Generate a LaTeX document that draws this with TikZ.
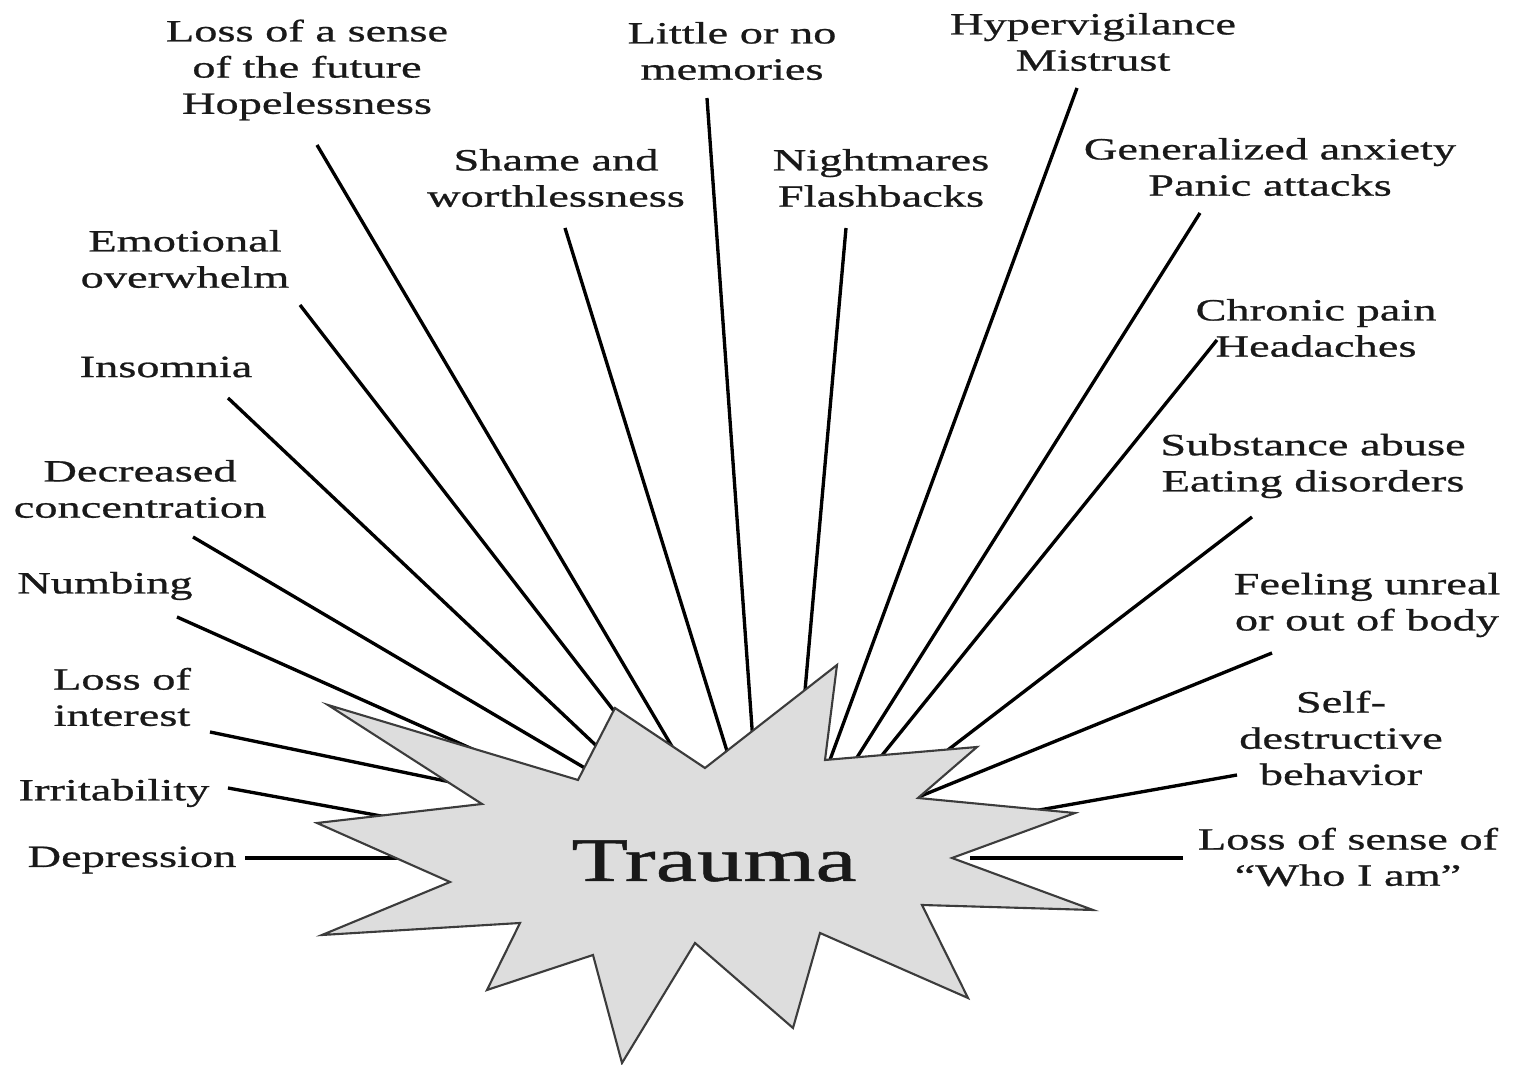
\documentclass[tikz,border=0pt]{standalone}
\usepackage{fontspec}
\setmainfont[FakeStretch=1.5,FakeBold=0.8]{Liberation Serif}
\definecolor{ink}{RGB}{25,25,25}
\definecolor{burst}{RGB}{221,221,221}
\definecolor{rim}{RGB}{60,60,60}
\tikzset{
  tag/.style={font=\fontsize{8.8}{10.3}\selectfont,text=ink,align=center,inner sep=0pt},
  spoke/.style={draw=black,line width=0.95pt},
  blast/.style={fill=burst,draw=rim,line width=0.6pt,line join=miter},
}
\begin{document}
\begin{tikzpicture}[x=0.1mm,y=-0.1mm]
  \useasboundingbox (0,0) rectangle (1513,1065);
  % labels, clockwise from the left
  \node[tag] (depression) at (132,860) {Depression};
  \node[tag] (irritability) at (114,793) {Irritability};
  \node[tag] (interest) at (122,697) {Loss of\\interest};
  \node[tag] (numbing) at (105,586) {Numbing};
  \node[tag] (concentration) at (140,489) {Decreased\\concentration};
  \node[tag] (insomnia) at (166,367) {Insomnia};
  \node[tag] (emotional) at (185,259) {Emotional\\overwhelm};
  \node[tag] (sense) at (307,70) {Loss of a sense\\of the future\\Hopelessness};
  \node[tag] (shame) at (556,178) {Shame and\\worthlessness};
  \node[tag] (memories) at (732,51) {Little or no\\memories};
  \node[tag] (nightmares) at (881,178) {Nightmares\\Flashbacks};
  \node[tag] (hyper) at (1093,42) {Hypervigilance\\Mistrust};
  \node[tag] (anxiety) at (1270,167) {Generalized anxiety\\Panic attacks};
  \node[tag] (pain) at (1316,328) {Chronic pain\\Headaches};
  \node[tag] (substance) at (1313,466) {Substance abuse\\Eating disorders};
  \node[tag] (unreal) at (1367,605) {Feeling unreal\\or out of body};
  \node[tag] (selfharm) at (1341,738) {Self-\\destructive\\behavior};
  \node[tag] (whoami) at (1348,857) {Loss of sense of\\“Who I am”};
  % spoke ends
  \coordinate (depression-a) at (245,858);  \coordinate (depression-b) at (410,858);
  \coordinate (irritability-a) at (228,788); \coordinate (irritability-b) at (392,818);
  \coordinate (interest-a) at (210,732);    \coordinate (interest-b) at (460,784);
  \coordinate (numbing-a) at (177,617);     \coordinate (numbing-b) at (479,752);
  \coordinate (concentration-a) at (193,537); \coordinate (concentration-b) at (595,774);
  \coordinate (insomnia-a) at (228,398);    \coordinate (insomnia-b) at (604,753);
  \coordinate (emotional-a) at (300,305);   \coordinate (emotional-b) at (621,720);
  \coordinate (sense-a) at (317,145);       \coordinate (sense-b) at (677,755);
  \coordinate (shame-a) at (565,228);       \coordinate (shame-b) at (731,764);
  \coordinate (memories-a) at (707,98);     \coordinate (memories-b) at (753,742);
  \coordinate (nightmares-a) at (846,228);  \coordinate (nightmares-b) at (804,702);
  \coordinate (hyper-a) at (1077,88);       \coordinate (hyper-b) at (827,768);
  \coordinate (anxiety-a) at (1200,213);    \coordinate (anxiety-b) at (851,767);
  \coordinate (pain-a) at (1217,340);       \coordinate (pain-b) at (875,764);
  \coordinate (substance-a) at (1252,517);  \coordinate (substance-b) at (940,756);
  \coordinate (unreal-a) at (1272,653);     \coordinate (unreal-b) at (911,800);
  \coordinate (selfharm-a) at (1237,775);   \coordinate (selfharm-b) at (1028,812);
  \coordinate (whoami-a) at (1183,858);     \coordinate (whoami-b) at (970,858);
  \foreach \s in {depression,irritability,interest,numbing,concentration,insomnia,
    emotional,sense,shame,memories,nightmares,hyper,anxiety,pain,substance,unreal,
    selfharm,whoami}
    \draw[spoke] (\s-a) -- (\s-b);
  % the burst, on top of the spokes
  \path[blast] (328,705) -- (482,804) -- (317,823) -- (450,882) -- (322,935)
    -- (520,923) -- (487,990) -- (593,955) -- (622,1063) -- (695,943)
    -- (793,1028) -- (820,933) -- (968,998) -- (922,905) -- (1093,910)
    -- (952,858) -- (1075,813) -- (918,798) -- (977,747) -- (825,760)
    -- (837,665) -- (705,768) -- (615,708) -- (578,780) -- cycle;
  \node[font=\fontsize{17.6}{20}\selectfont,text=ink,inner sep=0pt] (trauma) at (714,861) {Trauma};
\end{tikzpicture}
\end{document}
